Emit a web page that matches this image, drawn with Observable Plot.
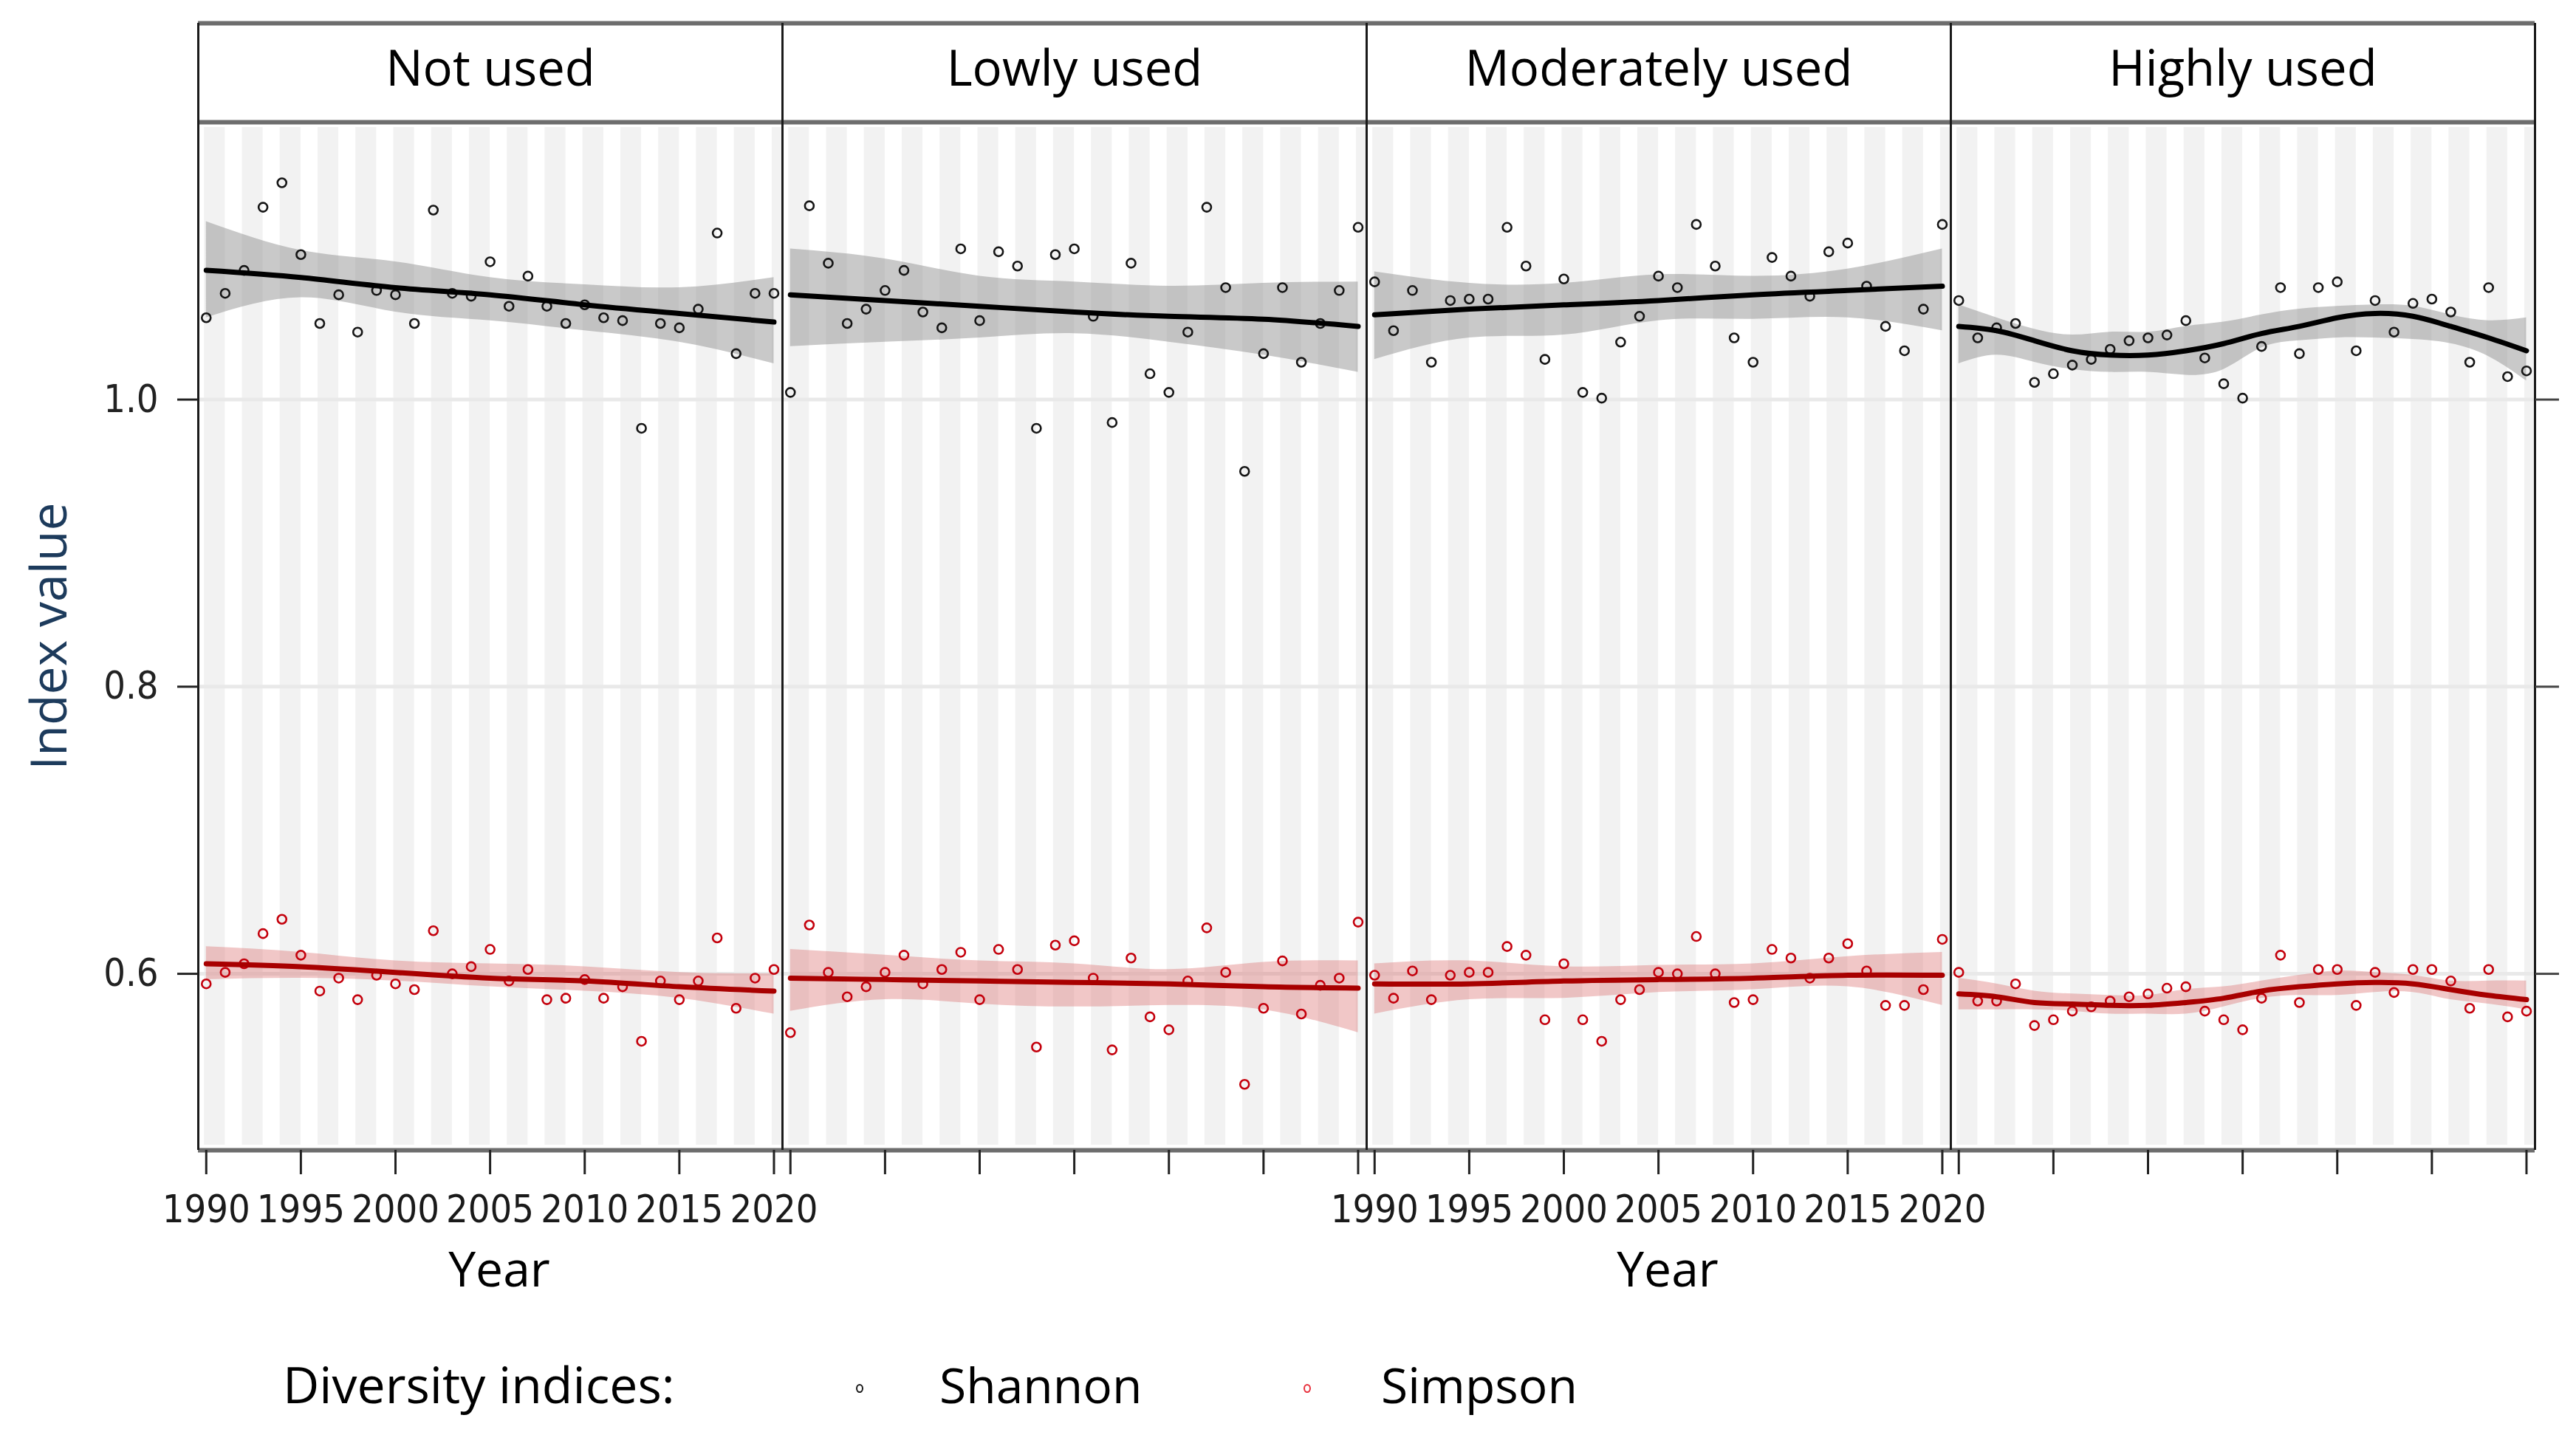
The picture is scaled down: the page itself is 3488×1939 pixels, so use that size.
<!DOCTYPE html>
<html>
<head>
<meta charset="utf-8">
<script src="https://cdn.jsdelivr.net/npm/d3@7"></script>
<script src="https://cdn.jsdelivr.net/npm/@observablehq/plot@0.6"></script>
<style>
  html, body { margin: 0; padding: 0; background: #fff; }
  #wrap { position: relative; width: 3488px; height: 1939px; overflow: hidden; }
  #chart { position: absolute; left: 0; top: 0; }
  #legend { position: absolute; left: 0; top: 1790px; width: 3488px; height: 149px;
            font-family: "Open Sans", sans-serif; color: #000; }
  #legend .lg { position: absolute; top: 84px; transform: translateY(-50%); line-height: 1; white-space: nowrap; }
  #legend svg { position: absolute; }
</style>
</head>
<body>
<div id="wrap">
  <div id="chart"></div>
  <div id="legend"></div>
</div>
<script>
// ---------- data ----------
const panels = ["Not used", "Lowly used", "Moderately used", "Highly used"];
const indexNames = ["Shannon", "Simpson"];
const years = [1990,1991,1992,1993,1994,1995,1996,1997,1998,1999,2000,2001,2002,2003,2004,2005,
               2006,2007,2008,2009,2010,2011,2012,2013,2014,2015,2016,2017,2018,2019,2020];
const xTicks = [1990, 1995, 2000, 2005, 2010, 2015, 2020];
const yTicks = [0.6, 0.8, 1.0];
const labelledPanels = ["Not used", "Moderately used"];
const stripeStarts = [1990,1992,1994,1996,1998,2000,2002,2004,2006,2008,2010,2012,2014,2016,2018,2020];

// observed values
const shannonNot  = [1.057,1.074,1.090,1.134,1.151,1.101,1.053,1.073,1.047,1.076,1.073,1.053,1.132,1.074,1.072,1.096,1.065,1.086,1.065,1.053,1.066,1.057,1.055,0.980,1.053,1.050,1.063,1.116,1.032,1.074,1.074];
const simpsonNot  = [0.593,0.601,0.607,0.628,0.638,0.613,0.588,0.597,0.582,0.599,0.593,0.589,0.630,0.600,0.605,0.617,0.595,0.603,0.582,0.583,0.596,0.583,0.591,0.553,0.595,0.582,0.595,0.625,0.576,0.597,0.603];
const shannonLow  = [1.005,1.135,1.095,1.053,1.063,1.076,1.090,1.061,1.050,1.105,1.055,1.103,1.093,0.980,1.101,1.105,1.058,0.984,1.095,1.018,1.005,1.047,1.134,1.078,0.950,1.032,1.078,1.026,1.053,1.076,1.120];
const simpsonLow  = [0.559,0.634,0.601,0.584,0.591,0.601,0.613,0.593,0.603,0.615,0.582,0.617,0.603,0.549,0.620,0.623,0.597,0.547,0.611,0.570,0.561,0.595,0.632,0.601,0.523,0.576,0.609,0.572,0.592,0.597,0.636];
const shannonMod  = [1.082,1.048,1.076,1.026,1.069,1.070,1.070,1.120,1.093,1.028,1.084,1.005,1.001,1.040,1.058,1.086,1.078,1.122,1.093,1.043,1.026,1.099,1.086,1.072,1.103,1.109,1.079,1.051,1.034,1.063,1.122];
const simpsonMod  = [0.599,0.583,0.602,0.582,0.599,0.601,0.601,0.619,0.613,0.568,0.607,0.568,0.553,0.582,0.589,0.601,0.600,0.626,0.600,0.580,0.582,0.617,0.611,0.597,0.611,0.621,0.602,0.578,0.578,0.589,0.624];
const shannonHigh = [1.069,1.043,1.050,1.053,1.012,1.018,1.024,1.028,1.035,1.041,1.043,1.045,1.055,1.029,1.011,1.001,1.037,1.078,1.032,1.078,1.082,1.034,1.069,1.047,1.067,1.070,1.061,1.026,1.078,1.016,1.020];
const simpsonHigh = [0.601,0.581,0.581,0.593,0.564,0.568,0.574,0.577,0.581,0.584,0.586,0.590,0.591,0.574,0.568,0.561,0.583,0.613,0.580,0.603,0.603,0.578,0.601,0.587,0.603,0.603,0.595,0.576,0.603,0.570,0.574];

// smoothed fit and confidence band, read at these years
const fitYears5 = [1990, 1995, 2000, 2005, 2010, 2015, 2020];
const fitYears2 = [1990,1992,1994,1996,1998,2000,2002,2004,2006,2008,2010,2012,2014,2016,2018,2020];

const fitShNot = [1.090,1.085,1.078,1.073,1.066,1.060,1.054];
const hiShNot  = [1.124,1.104,1.096,1.085,1.080,1.078,1.085];
const loShNot  = [1.057,1.071,1.061,1.055,1.048,1.040,1.025];
const fitSiNot = [0.607,0.605,0.601,0.597,0.595,0.591,0.588];
const hiSiNot  = [0.619,0.615,0.609,0.607,0.605,0.601,0.600];
const loSiNot  = [0.596,0.597,0.595,0.591,0.588,0.583,0.572];

const fitShLow = [1.073,1.069,1.065,1.061,1.058,1.056,1.051];
const hiShLow  = [1.105,1.098,1.086,1.082,1.079,1.081,1.082];
const loShLow  = [1.037,1.040,1.043,1.046,1.040,1.031,1.019];
const fitSiLow = [0.597,0.596,0.595,0.594,0.593,0.591,0.590];
const hiSiLow  = [0.617,0.613,0.609,0.607,0.603,0.608,0.609];
const loSiLow  = [0.574,0.582,0.579,0.577,0.578,0.575,0.559];

const fitShMod = [1.059,1.063,1.066,1.069,1.073,1.076,1.079];
const hiShMod  = [1.089,1.081,1.081,1.087,1.086,1.091,1.105];
const loShMod  = [1.028,1.043,1.045,1.055,1.056,1.057,1.048];
const fitSiMod = [0.593,0.593,0.595,0.596,0.597,0.599,0.599];
const hiSiMod  = [0.607,0.609,0.605,0.606,0.607,0.612,0.615];
const loSiMod  = [0.572,0.582,0.583,0.587,0.589,0.591,0.578];

const fitShHigh = [1.051,1.048,1.041,1.034,1.031,1.031,1.034,1.039,1.046,1.051,1.057,1.060,1.058,1.051,1.043,1.034];
const hiShHigh  = [1.066,1.057,1.049,1.045,1.047,1.047,1.051,1.054,1.059,1.063,1.065,1.066,1.065,1.059,1.055,1.057];
const loShHigh  = [1.025,1.031,1.026,1.021,1.019,1.019,1.017,1.021,1.036,1.041,1.043,1.043,1.042,1.039,1.030,1.013];
const fitSiHigh = [0.586,0.584,0.580,0.579,0.578,0.578,0.580,0.583,0.588,0.591,0.593,0.594,0.593,0.589,0.585,0.582];
const hiSiHigh  = [0.597,0.593,0.588,0.586,0.585,0.585,0.589,0.591,0.595,0.599,0.602,0.601,0.599,0.595,0.595,0.595];
const loSiHigh  = [0.575,0.575,0.575,0.574,0.572,0.572,0.572,0.577,0.583,0.585,0.585,0.587,0.587,0.582,0.579,0.575];

// ---------- tidy tables ----------
const pointSeries = [
  [panels[0], "Shannon", shannonNot], [panels[0], "Simpson", simpsonNot],
  [panels[1], "Shannon", shannonLow], [panels[1], "Simpson", simpsonLow],
  [panels[2], "Shannon", shannonMod], [panels[2], "Simpson", simpsonMod],
  [panels[3], "Shannon", shannonHigh], [panels[3], "Simpson", simpsonHigh]
];
const points = pointSeries.flatMap(([panel, index, vals]) =>
  vals.map((v, i) => ({panel, index, year: years[i], value: v})));

const fitSeries = [
  [panels[0], "Shannon", fitYears5, fitShNot, loShNot, hiShNot],
  [panels[0], "Simpson", fitYears5, fitSiNot, loSiNot, hiSiNot],
  [panels[1], "Shannon", fitYears5, fitShLow, loShLow, hiShLow],
  [panels[1], "Simpson", fitYears5, fitSiLow, loSiLow, hiSiLow],
  [panels[2], "Shannon", fitYears5, fitShMod, loShMod, hiShMod],
  [panels[2], "Simpson", fitYears5, fitSiMod, loSiMod, hiSiMod],
  [panels[3], "Shannon", fitYears2, fitShHigh, loShHigh, hiShHigh],
  [panels[3], "Simpson", fitYears2, fitSiHigh, loSiHigh, hiSiHigh]
];
const fits = fitSeries.flatMap(([panel, index, yrs, f, lo, hi]) =>
  yrs.map((y, i) => ({panel, index, year: y, fit: f[i], lo: lo[i], hi: hi[i]})));

const xLabelRows = labelledPanels.flatMap(panel => xTicks.map(year => ({panel, year, label: String(year)})));

// ---------- styling ----------
const NARROW = '"Liberation Sans Narrow", "DejaVu Sans Condensed", "Arial Narrow", "Liberation Sans", Arial, sans-serif';
const SANS = '"Open Sans", "Noto Sans", sans-serif';
const colShannon = "#000000", colSimpson = "#a80000";
const ptShannon = "#151515", ptSimpson = "#c4000c";
const xDomain = [1989.58, 2020.45];
const yDomain = [0.4771, 1.1932];
const stripH = 134;

const pts = k => points.filter(d => d.index === k);
const fit = k => fits.filter(d => d.index === k);

const chart = Plot.plot({
  width: 3488,
  height: 1790,
  marginTop: 165,
  marginBottom: 233,
  marginLeft: 267,
  marginRight: 56,
  style: {fontFamily: SANS, background: "#fff", overflow: "visible", color: "#000"},
  fx: {domain: panels, padding: 0, axis: null},
  x: {domain: xDomain},
  y: {domain: yDomain},
  marks: [
    // background stripes
    Plot.rect(stripeStarts, {x1: d => d - 0.1, x2: d => d + 1.0, fill: "#f2f2f2", insetTop: 7, insetBottom: 7, clip: true}),
    // horizontal grid
    Plot.ruleY(yTicks, {stroke: "#e9e9e9", strokeWidth: 5}),
    // confidence bands
    Plot.areaY(fit("Shannon"), {fx: "panel", x: "year", y1: "lo", y2: "hi", fill: "#8c8c8c", fillOpacity: 0.47, curve: "natural"}),
    Plot.areaY(fit("Simpson"), {fx: "panel", x: "year", y1: "lo", y2: "hi", fill: "#d86464", fillOpacity: 0.36, curve: "natural"}),
    // observations
    Plot.dot(pts("Shannon"), {fx: "panel", x: "year", y: "value", r: 6, stroke: ptShannon, strokeWidth: 2.6, fill: "none"}),
    Plot.dot(pts("Simpson"), {fx: "panel", x: "year", y: "value", r: 6, stroke: ptSimpson, strokeWidth: 2.6, fill: "none"}),
    // smooth fits
    Plot.line(fit("Shannon"), {fx: "panel", x: "year", y: "fit", stroke: colShannon, strokeWidth: 7, curve: "natural"}),
    Plot.line(fit("Simpson"), {fx: "panel", x: "year", y: "fit", stroke: colSimpson, strokeWidth: 7, curve: "natural"}),
    // panel + strip borders
    Plot.ruleY([yDomain[0], yDomain[1]], {stroke: "#6d6d6d", strokeWidth: 6}),
    Plot.ruleY([yDomain[1]], {stroke: "#6d6d6d", strokeWidth: 6, dy: -stripH}),
    Plot.ruleX(xDomain, {stroke: "#1a1a1a", strokeWidth: 3, insetTop: -stripH}),
    // strip labels
    Plot.text(panels, {fx: d => d, text: d => d, frameAnchor: "top", dy: -71, lineAnchor: "middle",
                       fontSize: 67, fontFamily: SANS, fill: "#000"}),
    // x axis ticks (all panels) and labels (alternating panels)
    Plot.axisX({ticks: xTicks, tickSize: 33, tickFormat: () => "", label: null, stroke: "#222", strokeWidth: 3}),
    Plot.text(xLabelRows, {fx: "panel", x: "year", text: "label", frameAnchor: "bottom", dy: 81, lineAnchor: "middle",
                           fontSize: 52, fontFamily: NARROW, fill: "#1a1a1a"}),
    Plot.text(labelledPanels, {fx: d => d, text: () => "Year", frameAnchor: "bottom", dx: 12, dy: 163, lineAnchor: "middle",
                               fontSize: 66, fontFamily: SANS, fill: "#000"}),
    // y axes
    Plot.axisY({ticks: yTicks, tickFormat: ".1f", tickSize: 28, tickPadding: 26, fontSize: 52, fontFamily: NARROW,
                label: null, stroke: "#222", strokeWidth: 3, fill: "#222"}),
    Plot.axisY({anchor: "right", ticks: yTicks, tickSize: 32, tickFormat: () => "", label: null, stroke: "#444", strokeWidth: 3}),
    Plot.text(["Index value"], {fx: () => panels[0], text: d => d, frameAnchor: "left", rotate: -90, dx: -200,
                                textAnchor: "middle", lineAnchor: "middle", fontSize: 68, fontFamily: SANS, fill: "#1d3b5c"})
  ]
});
document.getElementById("chart").appendChild(chart);

// ---------- legend ----------
const legend = document.getElementById("legend");
const legendItems = [
  {label: "Diversity indices:", left: 383},
  {label: indexNames[0], left: 1272, sym: 1164, color: "#1a1a1a"},
  {label: indexNames[1], left: 1870, sym: 1770, color: "#e8303c"}
];
legendItems.forEach(it => {
  const s = document.createElement("span");
  s.className = "lg";
  s.style.left = it.left + "px";
  s.style.fontSize = it.sym ? "66px" : "68px";
  s.textContent = it.label;
  legend.appendChild(s);
  if (it.sym) {
    const svg = d3.create("svg").attr("width", 16).attr("height", 18)
      .style("left", (it.sym - 8) + "px").style("top", (90 - 9) + "px");
    svg.append("ellipse").attr("cx", 8).attr("cy", 9).attr("rx", 4).attr("ry", 5)
      .attr("fill", "none").attr("stroke", it.color).attr("stroke-width", 2);
    legend.appendChild(svg.node());
  }
});
</script>
</body>
</html>
